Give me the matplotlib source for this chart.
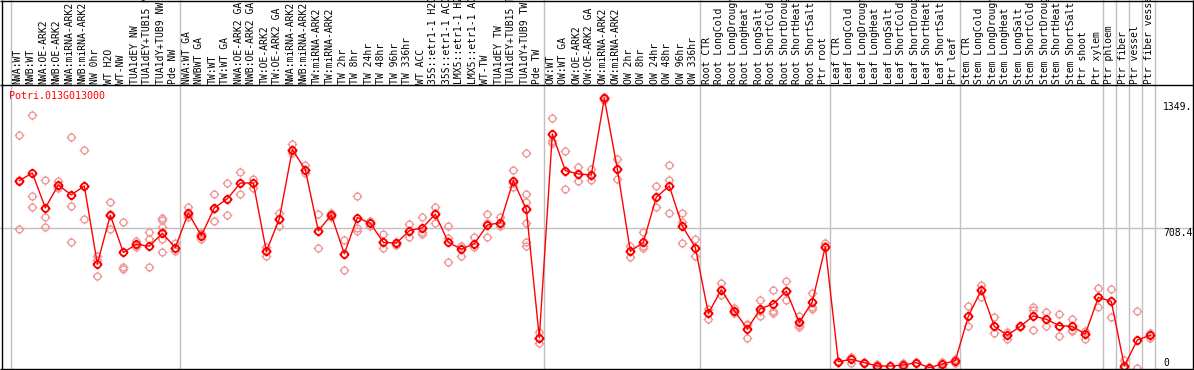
import matplotlib
matplotlib.use("Agg")
import matplotlib.pyplot as plt
import matplotlib.path as mpath
from matplotlib.transforms import blended_transform_factory

gene = "Potri.013G013000"

samples = [
    "NWA:WT", "NWB:WT", "NWA:OE-ARK2", "NWB:OE-ARK2", "NWA:miRNA-ARK2", "NWB:miRNA-ARK2",
    "NW 0hr", "WT H2O", "WT-NW", "TUA1dEY NW", "TUA1dEY+TUB15 NW", "TUA1dY+TUB9 NW", "Pde NW",
    "NWA:WT GA", "NWBWT GA", "TW:WT", "TW:WT GA", "NWA:OE-ARK2 GA", "NWB:OE-ARK2 GA",
    "TW:OE-ARK2", "TW:OE-ARK2 GA", "NWA:miRNA-ARK2", "NWB:miRNA-ARK2", "TW:miRNA-ARK2",
    "TW:miRNA-ARK2", "TW 2hr", "TW 8hr", "TW 24hr", "TW 48hr", "TW 96hr", "TW 336hr",
    "WT ACC", "35S::etr1-1 H2O", "35S::etr1-1 ACC", "LMX5::etr1-1 H2O", "LMX5::etr1-1 ACC",
    "WT-TW", "TUA1dEY TW", "TUA1dEY+TUB15 TW", "TUA1dY+TUB9 TW", "Pde TW",
    "OW:WT", "OW:WT GA", "OW:OE-ARK2", "OW:OE-ARK2 GA", "OW:miRNA-ARK2", "OW:miRNA-ARK2",
    "OW 2hr", "OW 8hr", "OW 24hr", "OW 48hr", "OW 96hr", "OW 336hr",
    "Root CTR", "Root LongCold", "Root LongDrought", "Root LongHeat", "Root LongSalt",
    "Root ShortCold", "Root ShortDrought", "Root ShortHeat", "Root ShortSalt", "Ptr root",
    "Leaf CTR", "Leaf LongCold", "Leaf LongDrought", "Leaf LongHeat", "Leaf LongSalt",
    "Leaf ShortCold", "Leaf ShortDrought", "Leaf ShortHeat", "Leaf ShortSalt", "Ptr leaf",
    "Stem CTR", "Stem LongCold", "Stem LongDrought", "Stem LongHeat", "Stem LongSalt",
    "Stem ShortCold", "Stem ShortDrought", "Stem ShortHeat", "Stem ShortSalt", "Ptr shoot",
    "Ptr xylem", "Ptr phloem", "Ptr fiber", "Ptr vessel", "Ptr fiber vessel",
]

# mean expression per sample
means = [
    950, 989, 812, 928, 878, 923, 528, 775, 586, 627, 618, 683, 611,
    786, 671, 812, 858, 938, 938, 591, 756, 1107, 1006, 695, 776, 579, 763, 734, 637, 633,
    696, 711, 780, 637, 603, 630, 725, 737, 950, 805, 154,
    1187, 1001, 984, 979, 1368, 1010, 592, 637, 867, 923, 720, 611,
    277, 397, 291, 198, 300, 325, 390, 231, 336, 615,
    32, 44, 27, 10, 10, 15, 27, 2, 20, 37,
    262, 396, 211, 166, 211, 264, 247, 215, 211, 172, 358,
    338, 10, 142, 166,
]

# replicate values per sample
reps = [
    [1183, 955, 703], [1285, 872, 816], [955, 764, 713], [948, 925, 911], [1173, 822, 637],
    [1107, 921, 754], [546, 570, 468], [841, 780, 703], [739, 512, 504], [644, 622, 614],
    [688, 652, 512], [763, 751, 717, 690, 652, 586], [632, 607, 594],
    [814, 776, 768], [683, 678, 652], [882, 805, 744], [940, 858, 776], [992, 938, 882],
    [960, 940, 913], [614, 591, 568], [788, 756, 720], [1134, 1107, 1088], [1027, 1006, 989],
    [780, 695, 611], [788, 776, 768], [649, 579, 499], [872, 708, 696], [746, 734, 722],
    [679, 637, 606], [640, 633, 626], [730, 696, 665], [764, 690, 681], [817, 788, 734],
    [720, 659, 540], [621, 617, 570], [665, 630, 614], [780, 733, 662], [764, 730, 722],
    [1006, 940, 916], [1088, 884, 841, 734, 638, 621], [183, 151, 128],
    [1269, 1151, 1141], [1098, 1001, 909], [1020, 984, 950], [1010, 979, 955],
    [1375, 1368, 1361], [1062, 1010, 958], [620, 592, 563], [688, 620, 606],
    [923, 867, 817], [1030, 952, 785], [785, 742, 632], [652, 611, 570],
    [298, 277, 250], [433, 397, 371], [303, 291, 279], [221, 220, 153], [347, 290, 264],
    [397, 291, 281], [439, 390, 346], [266, 220, 206], [380, 308, 298], [635, 620, 612],
    [35, 32, 29], [55, 50, 27], [30, 27, 24], [20, 8, 2], [12, 10, 8],
    [27, 12, 6], [30, 27, 24], [4, 2, 0], [32, 20, 7], [44, 37, 24],
    [314, 262, 215], [421, 396, 358], [257, 211, 176], [184, 166, 147], [215, 211, 207],
    [311, 294, 193], [284, 247, 215], [272, 215, 164], [248, 193, 189], [189, 172, 146],
    [404, 358, 311],
    [399, 338, 257], [41, 0, 0], [289, 0], [175, 166, 151],
]

group_edges = [0, 13, 41, 53, 63, 73, 84, 85, 86, 87, 88]
grid_value = 708.4
ytick_values = [1349.2, 708.4, 0]
ytick_texts = ["1349.", "708.4", "0"]

W, H = 1194, 370
MONO = "DejaVu Sans Mono"
GREY = "#c0c0c0"
PINK = "#f09a9a"

# circle with four little ticks
circ = mpath.Path.unit_circle()
tk = mpath.Path(
    [(0, 1), (0, 1.45), (0, -1), (0, -1.45), (1, 0), (1.45, 0), (-1, 0), (-1.45, 0)],
    [1, 2, 1, 2, 1, 2, 1, 2],
)
tick_circle = mpath.Path.make_compound_path(circ, tk)

fig = plt.figure(figsize=(W / 100, H / 100), dpi=100)

ax = fig.add_axes([11 / W, (H - 369) / H, (1155 - 11) / W, (369 - 85) / H])
ax.set_xlim(0, len(samples))
ax.set_ylim(-5.07, 1435.1)
ax.axis("off")

lab = fig.add_axes([11 / W, (H - 85) / H, (1155 - 11) / W, 85 / H])
lab.set_xlim(0, len(samples))
lab.set_ylim(0, 85)
lab.axis("off")

for i, s in enumerate(samples):
    lab.text(i + 0.5, 1.5, s, rotation=90, ha="center", va="bottom",
             fontsize=7, family=MONO, color="black")

for b in group_edges:
    ax.axvline(b, ymin=0, ymax=369 / 284, color=GREY, lw=1.0, clip_on=False, zorder=1)
ax.axhline(grid_value, xmin=-11 / 1144, xmax=1183 / 1144, color=GREY, lw=1.0,
           clip_on=False, zorder=1)

xs = [i + 0.64 for i in range(len(samples))]
for x, r in zip(xs, reps):
    ax.plot([x] * len(r), r, linestyle="none", marker=tick_circle, markersize=7,
            markerfacecolor="none", markeredgecolor=PINK, markeredgewidth=1.0,
            clip_on=False, zorder=2)
ax.plot(xs, means, color="red", lw=1.0, zorder=3, clip_on=False)
ax.plot(xs, means, linestyle="none", marker=tick_circle, markersize=7,
        markerfacecolor="none", markeredgecolor="red", markeredgewidth=1.3,
        zorder=4, clip_on=False)

tr = blended_transform_factory(ax.transAxes, ax.transData)
for v, t in zip(ytick_values, ytick_texts):
    ax.text(1 + 8 / 1144, v, t, transform=tr, ha="left",
            va="bottom" if v == 0 else "top", fontsize=7, family=MONO,
            color="black")

fig.text(9.5 / W, 1 - 96 / H, gene, color="red", fontsize=7.2, family=MONO,
         va="center", ha="left")

# outer frame
frame = fig.add_axes([0, 0, 1, 1], zorder=10)
frame.set_xlim(0, W)
frame.set_ylim(H, 0)
frame.axis("off")
kw = dict(color="black", lw=1.0, solid_capstyle="butt")
frame.plot([1.5, 1.5], [0, 369.5], **kw)
frame.plot([1192.5, 1192.5], [0, 369.5], **kw)
frame.plot([0, W], [0.5, 0.5], **kw)
frame.plot([0, W], [369, 369], **kw)
frame.plot([0, W], [85, 85], **kw)

fig.savefig("out.png", dpi=100)
